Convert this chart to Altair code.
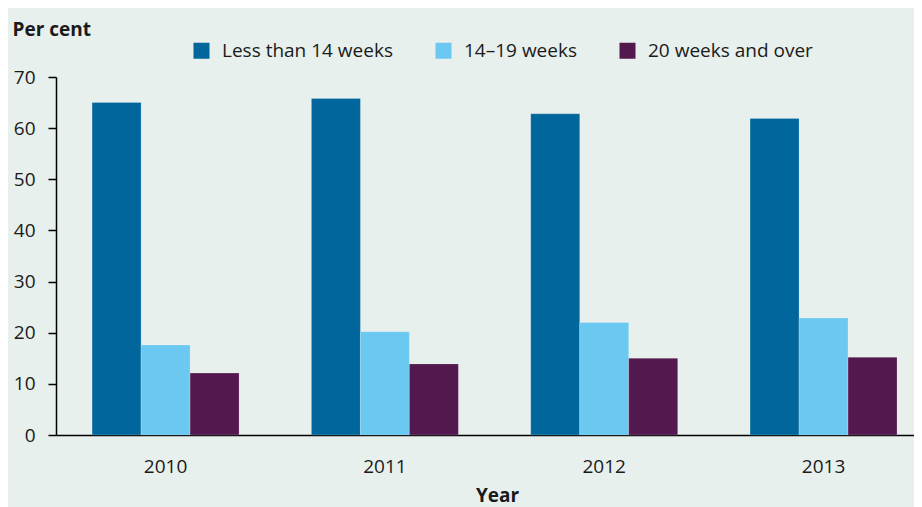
import altair as alt
import pandas as pd

years = ["2010", "2011", "2012", "2013"]
groups = ["Less than 14 weeks", "14\u201319 weeks", "20 weeks and over"]
less_than_14 = [65.0, 65.8, 62.8, 61.9]
weeks_14_19 = [17.6, 20.2, 22.0, 22.9]
weeks_20_over = [12.1, 13.9, 15.0, 15.2]
colors = ["#00669b", "#6bc8f0", "#53184e"]

rows = []
for series, vals in zip(groups, [less_than_14, weeks_14_19, weeks_20_over]):
    for y, v in zip(years, vals):
        rows.append({"Year": y, "Group": series, "Value": v})
df = pd.DataFrame(rows)

FONT = "Open Sans"

chart = alt.Chart(df).mark_bar(
    stroke="#ffffff", strokeOpacity=0.25, strokeWidth=0.8
).encode(
    x=alt.X("Year:N", sort=years,
            scale=alt.Scale(paddingInner=0.33, paddingOuter=0.121, align=0.68),
            axis=alt.Axis(title="Year", labelAngle=0, ticks=False, domainColor="#000000",
                          domainWidth=1.5, labelFontSize=19, labelFont=FONT,
                          labelColor="#1a1a1a", labelPadding=22,
                          titleFont=FONT, titleFontSize=19, titleFontWeight="bold",
                          titleColor="#1a1a1a", titleX=441, titleY=66,
                          titleAlign="center", titleBaseline="alphabetic")),
    xOffset=alt.XOffset("Group:N", sort=groups,
                        scale=alt.Scale(paddingInner=0, paddingOuter=0)),
    y=alt.Y("Value:Q", scale=alt.Scale(domain=[0, 70], nice=False),
            axis=alt.Axis(title="Per cent", values=list(range(0, 71, 10)), grid=False,
                          domainColor="#000000", domainWidth=1.5, tickColor="#000000",
                          tickWidth=1.5, tickSize=8, labelPadding=13,
                          labelFontSize=19, labelFont=FONT, labelColor="#1a1a1a",
                          titleFont=FONT, titleFontSize=19, titleFontWeight="bold",
                          titleColor="#1a1a1a", titleAngle=0, titleX=-44, titleY=-42,
                          titleAlign="left", titleBaseline="alphabetic")),
    color=alt.Color("Group:N", sort=groups,
                    scale=alt.Scale(domain=groups, range=colors),
                    legend=alt.Legend(title=None, orient="none", legendX=136, legendY=-36,
                                      direction="horizontal", symbolType="square",
                                      symbolSize=256, symbolStrokeWidth=0,
                                      labelFont=FONT, labelFontSize=19,
                                      labelColor="#1a1a1a", labelLimit=400,
                                      labelOffset=11, columnPadding=41, padding=0)),
).properties(
    width=858, height=358,
    autosize=alt.AutoSizeParams(type="none"),
    padding={"left": 48, "top": 69, "right": 0, "bottom": 72},
    background="#e7f0ec",
).configure_view(stroke=None)

chart.save("out.html", embed_options={"renderer": "svg", "actions": False})
